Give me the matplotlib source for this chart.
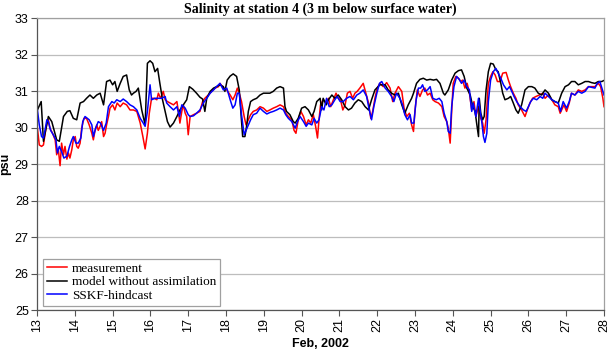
import matplotlib
matplotlib.use("Agg")
import matplotlib.pyplot as plt

# Salinity at station 4, days of Feb 2002
meas_day = [13.01, 13.06, 13.12, 13.17, 13.21, 13.26, 13.30, 13.34, 13.41, 13.48, 13.52, 13.56, 13.61, 13.65,
            13.70, 13.74, 13.79, 13.83, 13.87, 13.92, 13.96, 14.01, 14.05, 14.09, 14.14, 14.18, 14.24, 14.31,
            14.38, 14.45, 14.49, 14.53, 14.58, 14.62, 14.67, 14.71, 14.76, 14.80, 14.84, 14.89, 14.93, 15.00,
            15.06, 15.12, 15.20, 15.28, 15.37, 15.46, 15.55, 15.64, 15.73, 15.80, 15.86, 15.92, 15.97, 16.03,
            16.10, 16.17, 16.21, 16.27, 16.34, 16.39, 16.45, 16.52, 16.61, 16.70, 16.74, 16.78, 16.83, 16.87,
            16.92, 16.96, 17.00, 17.05, 17.14, 17.22, 17.31, 17.38, 17.44, 17.53, 17.62, 17.71, 17.80,
            17.84, 17.93, 18.02, 18.11, 18.18, 18.24, 18.30, 18.35, 18.41, 18.48, 18.53, 18.59, 18.65, 18.72,
            18.81, 18.90, 18.99, 19.08, 19.16, 19.25, 19.34, 19.43, 19.52, 19.58, 19.65, 19.74, 19.80, 19.85,
            19.91, 19.98, 20.05, 20.12, 20.18, 20.24, 20.31, 20.37, 20.42, 20.46, 20.50, 20.57, 20.65, 20.71,
            20.77, 20.84, 20.91, 20.97, 21.03, 21.09, 21.15, 21.21, 21.28, 21.35, 21.41, 21.47, 21.54, 21.63,
            21.70, 21.77, 21.83, 21.88, 21.94, 22.00, 22.07, 22.16, 22.25, 22.34, 22.41, 22.47, 22.56, 22.65,
            22.71, 22.78, 22.85, 22.91,
            22.96, 23.00, 23.06, 23.13, 23.20, 23.26, 23.33, 23.40, 23.47, 23.53, 23.62, 23.71, 23.77, 23.84,
            23.88, 23.93, 23.97, 24.01, 24.08, 24.15, 24.21, 24.26, 24.32, 24.38, 24.44, 24.50, 24.56, 24.61,
            24.68, 24.74, 24.79, 24.83, 24.88, 24.94, 25.00, 25.06, 25.12, 25.18, 25.25, 25.32, 25.41, 25.47,
            25.53, 25.60, 25.67, 25.73, 25.82, 25.91, 25.97, 26.04, 26.11, 26.20, 26.29, 26.38, 26.44, 26.53,
            26.62, 26.70, 26.79, 26.84, 26.88, 26.94, 27.01, 27.08, 27.14, 27.23, 27.32, 27.41, 27.50, 27.59,
            27.67, 27.76, 27.85, 27.91, 27.97, 28.00]
meas_psu = [29.99, 29.53, 29.49, 29.53, 29.81, 30.13, 30.22, 29.99, 29.85, 29.67, 29.26, 29.44, 28.96, 29.58,
            29.26, 29.49, 29.14, 29.31, 29.17, 29.40, 29.67, 29.76, 29.49, 29.44, 29.58, 29.99, 30.26, 30.26,
            30.08, 29.85, 29.67, 29.90, 30.08, 29.93, 30.04, 30.17, 29.76, 29.85, 30.08, 30.31, 30.54, 30.63,
            30.49, 30.68, 30.58, 30.68, 30.63, 30.49, 30.49, 30.45, 30.13, 29.76, 29.42, 29.85, 30.40, 30.81,
            30.81, 30.77, 30.95, 30.81, 31.00, 30.77, 30.72, 30.68, 30.63, 30.72, 30.45, 30.13, 30.45, 30.63,
            30.40, 30.31, 29.81, 30.31, 30.36, 30.40, 30.45, 30.72, 30.81, 30.90, 31.00, 31.09, 31.13,
            31.22, 31.09, 31.04, 30.90, 30.77, 30.90, 31.09, 30.95, 30.72, 30.31, 30.08, 30.22, 30.36, 30.45,
            30.49, 30.58, 30.54, 30.45, 30.49, 30.54, 30.58, 30.63, 30.58, 30.40, 30.31, 30.22, 29.93, 29.85,
            30.22, 30.45, 30.31, 30.08, 30.22, 30.13, 30.36, 30.04, 29.72, 30.22, 30.63, 30.77, 30.68, 30.81,
            30.58, 30.77, 30.95, 30.81, 30.77, 30.49, 30.63, 30.95, 31.00, 30.81, 30.95, 31.00, 31.09, 31.22,
            30.95, 30.68, 30.26, 30.45, 30.81, 31.09, 31.22, 31.13, 31.24, 31.09, 30.72, 30.95, 31.13, 31.00,
            30.54, 30.31, 30.40, 30.08,
            29.90, 30.49, 31.04, 30.86, 31.04, 31.09, 30.90, 30.95, 30.77, 30.72, 30.68, 30.58, 30.31, 30.17,
            29.99, 29.58, 30.45, 31.22, 31.41, 31.36, 31.27, 31.31, 31.09, 31.22, 30.95, 30.49, 30.72, 30.31,
            30.58, 30.26, 30.13, 29.85, 30.22, 31.22, 31.41, 31.54, 31.45, 31.27, 31.27, 31.50, 31.52, 31.31,
            31.13, 30.95, 30.81, 30.63, 30.49, 30.31, 30.49, 30.68, 30.81, 30.86, 30.90, 30.95, 30.81, 30.90,
            30.77, 30.63, 30.58, 30.40, 30.49, 30.63, 30.45, 30.68, 30.95, 30.90, 31.04, 31.00, 31.04, 31.13,
            31.13, 31.13, 31.22, 31.13, 30.81, 30.58]

model_day = [13.01, 13.11, 13.17, 13.30, 13.39, 13.52, 13.59, 13.70, 13.80, 13.87, 13.96, 14.05, 14.14, 14.23,
             14.31, 14.40, 14.49, 14.58, 14.67, 14.76, 14.84, 14.93, 15.00, 15.06, 15.12, 15.20, 15.28, 15.37,
             15.44, 15.50, 15.55, 15.62, 15.68, 15.77, 15.86, 15.92, 15.99, 16.06, 16.12, 16.19, 16.25, 16.32,
             16.39, 16.45, 16.52, 16.61, 16.70, 16.78, 16.87, 16.96, 17.03, 17.12, 17.22, 17.31, 17.38, 17.44,
             17.49, 17.58, 17.67, 17.75, 17.84,
             17.93, 17.97, 18.03, 18.11, 18.19, 18.28, 18.35, 18.40, 18.44, 18.50, 18.55, 18.59, 18.65, 18.72,
             18.81, 18.90, 18.99, 19.08, 19.16, 19.25, 19.34, 19.43, 19.52, 19.56, 19.60, 19.69, 19.78, 19.83,
             19.91, 20.00, 20.09, 20.18, 20.27, 20.33, 20.40, 20.49, 20.53, 20.57, 20.65, 20.71, 20.80, 20.88,
             20.97, 21.06, 21.15, 21.24, 21.32, 21.41, 21.50, 21.59, 21.68, 21.77, 21.85, 21.94, 22.07, 22.21,
             22.29, 22.38, 22.47, 22.56, 22.65, 22.73, 22.82,
             22.91, 22.96, 23.04, 23.13, 23.22, 23.31, 23.40, 23.49, 23.57, 23.66, 23.75, 23.79, 23.88, 23.97,
             24.06, 24.15, 24.23, 24.30, 24.37, 24.46, 24.53, 24.59, 24.63, 24.68, 24.70, 24.74, 24.79, 24.83,
             24.88, 24.94, 25.00, 25.07, 25.14, 25.20, 25.27, 25.32, 25.38, 25.47, 25.53, 25.60, 25.67, 25.73,
             25.82, 25.91, 26.00, 26.09, 26.17, 26.26, 26.35, 26.44, 26.53, 26.62, 26.70, 26.79, 26.88, 26.97,
             27.06, 27.14, 27.23, 27.32, 27.41, 27.50, 27.59, 27.67, 27.76, 27.85, 27.94, 28.00]
model_psu = [30.49, 30.72, 29.63, 30.31, 30.17, 29.67, 29.63, 30.31, 30.45, 30.47, 30.26, 30.22, 30.68, 30.72,
             30.81, 30.90, 30.81, 30.90, 30.95, 30.63, 31.27, 31.31, 31.18, 31.27, 31.00, 31.22, 31.41, 31.45,
             31.04, 30.90, 30.95, 31.00, 31.09, 30.49, 30.08, 31.77, 31.84, 31.77, 31.54, 31.63, 31.22, 30.77,
             30.45, 30.17, 30.02, 30.13, 30.31, 30.49, 30.63, 30.77, 31.13, 31.06, 30.95, 30.84, 30.79, 30.45,
             30.81, 31.00, 31.09, 31.13, 31.18,
             31.13, 31.00, 31.31, 31.42, 31.48, 31.41, 31.04, 30.31, 29.76, 29.76, 30.08, 30.45, 30.72, 30.77,
             30.81, 30.90, 30.95, 30.95, 30.95, 31.00, 31.09, 31.13, 31.09, 30.58, 30.45, 30.36, 30.17, 30.13,
             30.26, 30.54, 30.58, 30.49, 30.31, 30.45, 30.72, 30.81, 30.49, 30.81, 30.63, 30.77, 30.90, 30.81,
             30.90, 30.77, 30.58, 30.49, 30.54, 30.68, 30.77, 30.72, 30.58, 30.49, 30.77, 31.04, 31.18, 31.18,
             31.04, 30.95, 30.90, 30.95, 30.63, 30.40, 30.63,
             30.81, 30.95, 31.22, 31.33, 31.36, 31.31, 31.33, 31.31, 31.33, 31.22, 30.95, 30.90, 31.04, 31.31,
             31.50, 31.57, 31.59, 31.41, 31.09, 30.90, 30.58, 30.45, 30.13, 29.76, 30.81, 30.40, 30.22, 30.31,
             31.04, 31.54, 31.77, 31.75, 31.59, 31.54, 31.22, 30.95, 30.77, 30.81, 30.86, 30.68, 30.49, 30.40,
             30.63, 31.04, 31.13, 31.13, 31.09, 30.95, 30.90, 31.04, 30.95, 30.77, 30.72, 30.68, 30.95, 31.13,
             31.18, 31.27, 31.27, 31.18, 31.22, 31.27, 31.27, 31.24, 31.22, 31.27, 31.27, 31.30]

sskf_day = [13.01, 13.06, 13.12, 13.17, 13.21, 13.26, 13.30, 13.36, 13.43, 13.50, 13.54, 13.59, 13.65, 13.71,
            13.79, 13.86, 13.92, 13.96, 14.03, 14.09, 14.16, 14.21, 14.27, 14.33, 14.38, 14.45, 14.49, 14.55,
            14.62, 14.68, 14.76, 14.83, 14.89, 14.98, 15.04, 15.11, 15.20, 15.28, 15.37, 15.46, 15.55, 15.64,
            15.73, 15.81, 15.86, 15.92, 15.99, 16.03, 16.12, 16.21, 16.30, 16.39, 16.43, 16.52, 16.61, 16.70,
            16.77, 16.83, 16.92, 17.00, 17.05, 17.14, 17.22, 17.31, 17.40, 17.49, 17.58, 17.67, 17.75, 17.84,
            17.93, 18.02, 18.11, 18.18, 18.24, 18.30, 18.35, 18.41, 18.48, 18.53, 18.59, 18.65, 18.72, 18.81,
            18.90, 18.99, 19.08, 19.16, 19.25, 19.34, 19.43, 19.52, 19.58, 19.65, 19.74, 19.83, 19.89, 19.96,
            20.05, 20.12, 20.18, 20.27, 20.33, 20.40, 20.46, 20.53, 20.59, 20.66, 20.73, 20.80, 20.88, 20.94,
            21.02, 21.10, 21.19, 21.28, 21.37, 21.46, 21.54, 21.63, 21.72, 21.79, 21.85, 21.91, 21.99, 22.06,
            22.12, 22.21, 22.29, 22.38, 22.44, 22.51, 22.60, 22.67, 22.73, 22.80, 22.87,
            22.91, 22.97, 23.03, 23.09, 23.15, 23.20, 23.26, 23.33, 23.40, 23.47, 23.56, 23.64, 23.71, 23.77,
            23.84, 23.88, 23.93, 23.97, 24.03, 24.10, 24.17, 24.23, 24.30, 24.37, 24.44, 24.50, 24.54, 24.61,
            24.68, 24.72, 24.76, 24.81, 24.85, 24.90, 24.94, 25.00, 25.07, 25.14, 25.20, 25.27, 25.34, 25.43,
            25.50, 25.56, 25.62, 25.69, 25.78, 25.87, 25.94, 26.00, 26.06, 26.13, 26.22, 26.31, 26.38, 26.44,
            26.53, 26.62, 26.70, 26.79, 26.85, 26.92, 27.01, 27.08, 27.14, 27.23, 27.32, 27.41, 27.50, 27.59,
            27.67, 27.76, 27.82, 27.89, 27.97, 28.00]
sskf_psu = [30.49, 30.08, 29.76, 29.72, 29.93, 30.22, 30.17, 29.93, 29.81, 29.67, 29.31, 29.49, 29.35, 29.17,
            29.22, 29.49, 29.67, 29.76, 29.58, 29.58, 29.72, 30.17, 30.31, 30.26, 30.22, 30.08, 29.76, 29.99,
            30.17, 30.13, 29.93, 30.13, 30.58, 30.72, 30.68, 30.77, 30.72, 30.79, 30.72, 30.63, 30.58, 30.49,
            30.26, 30.13, 30.04, 30.45, 31.18, 30.77, 30.81, 30.81, 30.81, 30.86, 30.68, 30.58, 30.49, 30.58,
            30.31, 30.63, 30.54, 30.36, 30.31, 30.33, 30.40, 30.49, 30.68, 30.81, 30.95, 31.04, 31.13, 31.22,
            31.04, 31.09, 30.77, 30.54, 30.63, 30.95, 30.95, 30.36, 29.81, 29.93, 30.08, 30.22, 30.36, 30.40,
            30.54, 30.45, 30.38, 30.42, 30.45, 30.49, 30.54, 30.49, 30.36, 30.26, 30.17, 29.99, 30.17, 30.31,
            30.17, 30.04, 30.13, 30.08, 30.26, 30.13, 30.22, 30.58, 30.49, 30.81, 30.58, 30.63, 30.77, 30.86,
            30.72, 30.72, 30.81, 30.86, 30.77, 30.90, 30.95, 31.04, 30.86, 30.49, 30.22, 30.58, 30.95, 31.22,
            31.27, 31.09, 31.00, 30.86, 30.72, 30.95, 30.81, 30.63, 30.36, 30.22, 30.36,
            30.13, 30.13, 30.77, 31.09, 31.09, 31.18, 31.00, 31.04, 31.13, 30.81, 30.77, 30.81, 30.72, 30.40,
            30.17, 29.90, 29.85, 30.58, 31.13, 31.41, 31.33, 31.22, 31.31, 31.13, 31.04, 30.45, 30.68, 30.31,
            30.81, 30.49, 30.22, 29.76, 29.60, 29.85, 30.72, 31.31, 31.54, 31.63, 31.50, 31.36, 31.18, 31.04,
            31.13, 31.00, 30.86, 30.72, 30.58, 30.49, 30.45, 30.58, 30.72, 30.81, 30.77, 30.86, 30.81, 30.95,
            30.86, 30.77, 30.72, 30.68, 30.45, 30.72, 30.54, 30.72, 30.95, 30.90, 31.00, 30.95, 31.00, 31.13,
            31.11, 31.09, 31.22, 31.27, 31.00, 30.90]

day_ticks = list(range(13, 29))
psu_ticks = list(range(25, 34))

fig = plt.figure(figsize=(6.09, 3.51), dpi=100)
ax = fig.add_axes([0.0608, 0.1168, 0.9310, 0.8305])

ax.plot(meas_day, meas_psu, color='#ff0000', lw=1.1, label='measurement')
ax.plot(model_day, model_psu, color='black', lw=1.1, label='model without assimilation')
ax.plot(sskf_day, sskf_psu, color='#0000ff', lw=1.1, label='SSKF-hindcast')

ax.set_xlim(13, 28)
ax.set_ylim(25, 33)
ax.set_xticks(day_ticks)
ax.set_yticks(psu_ticks)
ax.set_xticklabels([str(d) for d in day_ticks], rotation=90, family='Liberation Sans', fontsize=9)
ax.set_yticklabels([str(p) for p in psu_ticks], family='Liberation Sans', fontsize=9)
ax.tick_params(axis='both', direction='out', length=4, width=0.8, color='#555555', pad=2)

ax.grid(axis='y', color='#bdbdbd', lw=0.9)
ax.set_axisbelow(True)
for s in ['top', 'right']:
    ax.spines[s].set_color('#a0a0a0')
    ax.spines[s].set_linewidth(0.9)
for s in ['left', 'bottom']:
    ax.spines[s].set_color('#555555')
    ax.spines[s].set_linewidth(0.9)

ax.set_title('Salinity at station 4 (3 m below surface water)', family='Liberation Serif',
             fontsize=10, fontweight='bold', pad=4)
ax.set_ylabel('psu', family='Liberation Sans', fontsize=9, fontweight='bold')
ax.yaxis.set_label_coords(-0.045, 0.5)
ax.set_xlabel('Feb, 2002', family='Liberation Sans', fontsize=9, fontweight='bold', labelpad=4)

leg = ax.legend(loc='lower left', bbox_to_anchor=(0.0106, 0.0137), fancybox=False,
                framealpha=1, edgecolor='#a0a0a0', borderaxespad=0,
                prop={'family': 'Liberation Serif', 'size': 9.5},
                handlelength=1.5, handletextpad=0.4, labelspacing=0.1, borderpad=0.3)
leg.get_frame().set_linewidth(0.9)

fig.savefig('out.png', dpi=100)
